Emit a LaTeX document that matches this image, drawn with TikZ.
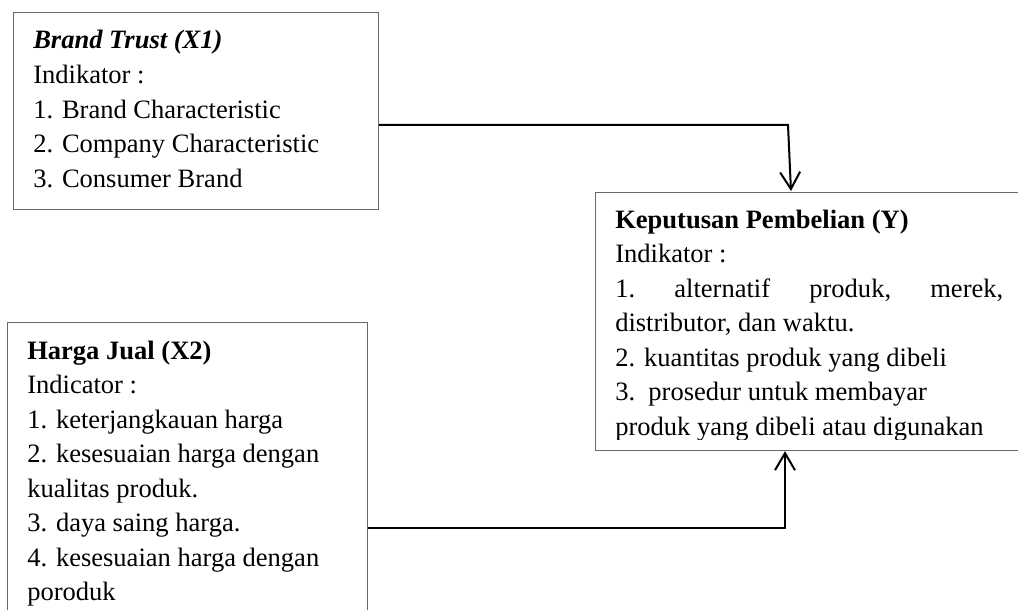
\documentclass[tikz,border=0pt]{standalone}
\usepackage{fontspec}
\setmainfont{Liberation Serif}
\usetikzlibrary{arrows.meta}
\definecolor{boxgray}{RGB}{105,105,105}
\begin{document}
\begin{tikzpicture}[x=0.75pt,y=-0.75pt,
  box/.style={draw=boxgray, line width=0.9pt, anchor=north west, inner sep=0pt},
  txt/.style={anchor=base west, inner sep=0pt, font=\fontsize{19.9pt}{25.9pt}\selectfont},
  conn/.style={draw=black, line width=1.5pt, -{Straight Barb[length=12.75pt,width=15pt]}}]
\useasboundingbox (0,0) rectangle (1018,610);
\fill[white] (0,0) rectangle (1018,610);
% boxes
\node[box, minimum width=273.75pt, minimum height=147.75pt] (x1) at (13,12) {};
\node[box, minimum width=270pt, minimum height=223.5pt] (x2) at (7,322) {};
\node[box, minimum width=326.25pt, minimum height=193.5pt] (y) at (595,192) {};
% box X1 text
\node[txt] (x1a) at (33,49) {\textbf{\textit{Brand Trust (X1)}}};
\node[txt] (x1b) at (33,83.5) {Indikator :};
\node[txt] (x1c) at (33,118) {1. Brand Characteristic};
\node[txt] (x1d) at (33,152.5) {2. Company Characteristic};
\node[txt] (x1e) at (33,187) {3. Consumer Brand};
% box X2 text
\node[txt] (x2a) at (27,359) {\textbf{Harga Jual (X2)}};
\node[txt] (x2b) at (27,393.5) {Indicator :};
\node[txt] (x2c) at (27,428) {1. keterjangkauan harga};
\node[txt] (x2d) at (27,462.5) {2. kesesuaian harga dengan};
\node[txt] (x2e) at (27,497) {kualitas produk.};
\node[txt] (x2f) at (27,531.5) {3. daya saing harga.};
\node[txt] (x2g) at (27,566) {4. kesesuaian harga dengan};
\node[txt] (x2h) at (27,600.5) {poroduk};
% box Y text
\begin{scope}
\clip (595,192) rectangle (1018,439);
\node[txt] (ya) at (615,228) {\textbf{Keputusan Pembelian (Y)}};
\node[txt] (yb) at (615,262.5) {Indikator :};
\node[txt] (yc) at (615,297) {\hbox to 291pt{1.\hfill alternatif\hfill produk,\hfill merek,}};
\node[txt] (yd) at (615,331.5) {distributor, dan waktu.};
\node[txt] (ye) at (615,366) {2. kuantitas produk yang dibeli};
\node[txt] (yf) at (615,400.5) {3.\ \ prosedur untuk membayar};
\node[txt] (yg) at (615,435) {produk yang dibeli atau digunakan};
\end{scope}
% connectors
\coordinate (c1) at (788,125);
\coordinate (t1) at (791,191);
\draw[conn] (x1.east |- c1) -- (c1) -- (t1);
\coordinate (c2) at (785,528);
\draw[conn] (x2.east |- c2) -- (c2) -- (y.south -| c2);
\end{tikzpicture}
\end{document}
